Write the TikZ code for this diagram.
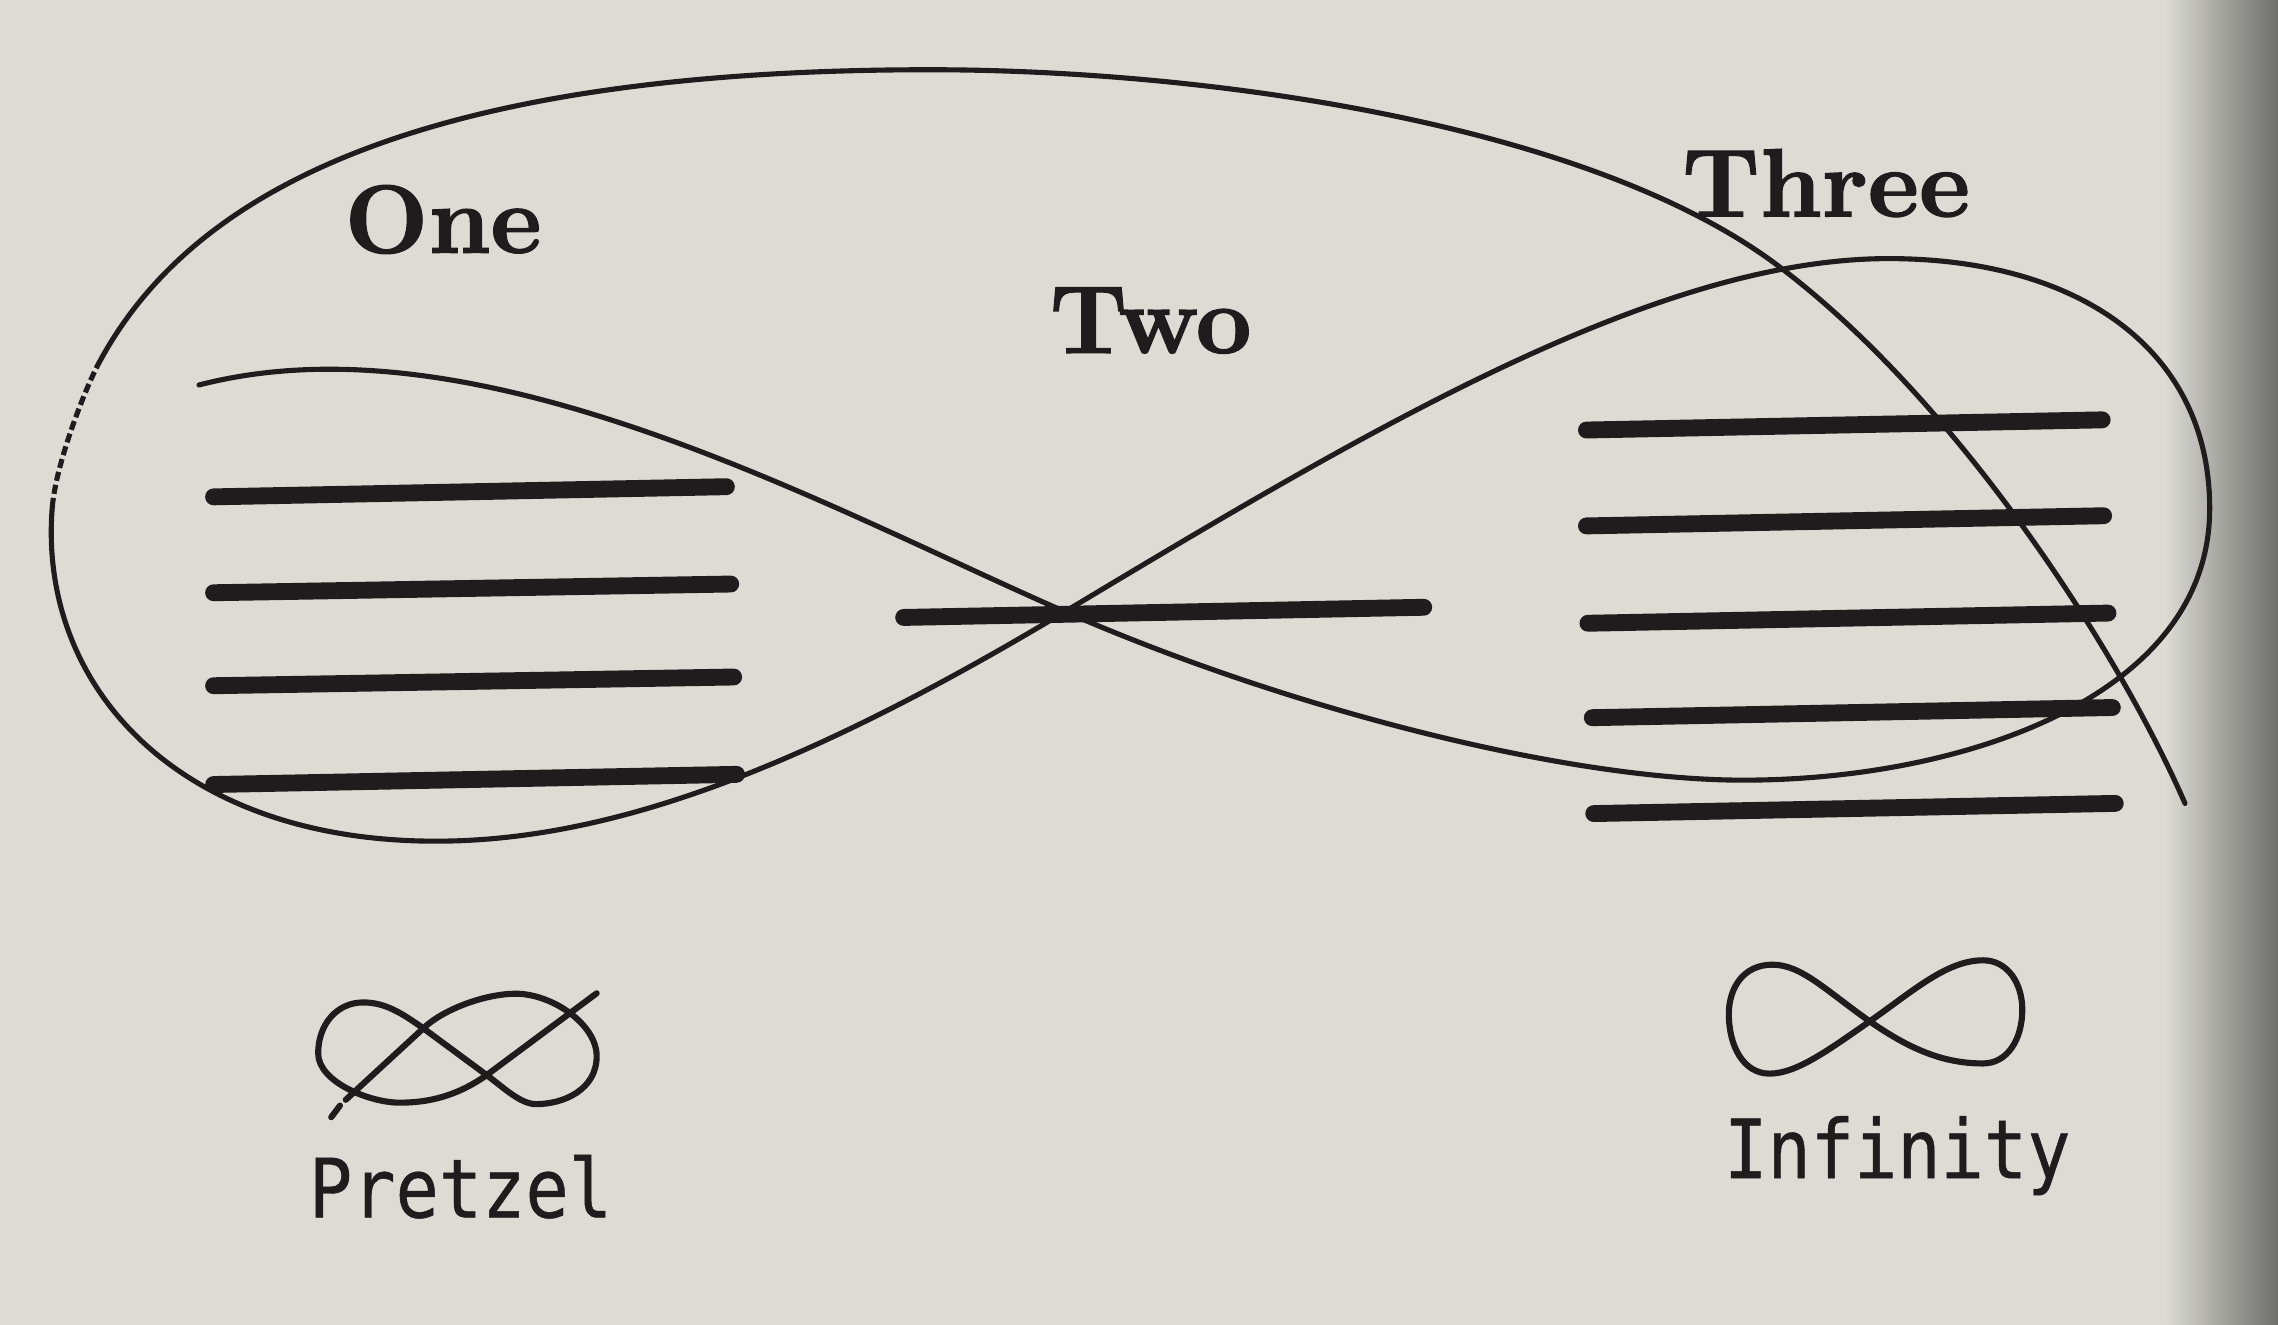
\documentclass[tikz,border=0pt]{standalone}
\usepackage{fontspec}
\newfontfamily\monofont{DejaVu Sans Mono}[FakeBold=0.6]
\newfontfamily\heavyfont{lmroman10-bold.otf}[FakeBold=1.3]
\definecolor{page}{RGB}{220,220,213}
\definecolor{pagedark}{RGB}{110,110,106}
\definecolor{ink}{RGB}{30,28,28}
\begin{document}
\begin{tikzpicture}[x=0.01cm,y=-0.01cm,
  curve/.style={draw=ink,line width=1pt,line cap=round,line join=round},
  dotcurve/.style={curve,line cap=butt,dash pattern=on 1.8pt off 0.8pt},
  bar/.style={draw=ink,line width=3.3pt,line cap=round},
  icon/.style={draw=ink,line width=1.2pt,line cap=round,line join=round},
  bigword/.style={text=ink,font=\heavyfont\fontsize{19}{20}\selectfont,inner sep=0pt,anchor=base},
  smallword/.style={text=ink,font=\monofont\fontsize{16}{18}\selectfont,inner sep=0pt,anchor=base,xscale=0.88}]
\fill[page] (0,0) rectangle (1568,912);
\shade[left color=page,right color=pagedark] (1490,0) rectangle (1568,912);
\useasboundingbox (0,0) rectangle (1568,912);

% key points of the big pretzel curve
\coordinate (p0) at (137,265);   % free start, inside the left lobe
\coordinate (x)  at (733,421);   % central crossing
\coordinate (b1) at (1200,537);  % bottom of the right lobe
\coordinate (r)  at (1521,350);  % right end of the right lobe
\coordinate (t2) at (1300,178);  % top of the right lobe
\coordinate (b2) at (300,579);   % bottom of the left lobe
\coordinate (q)  at (36,349);    % start of the broken stretch
\coordinate (w)  at (68,250);    % end of the broken stretch
\coordinate (tp) at (640,48);    % top of the outer arc
\coordinate (m)  at (1224,183);  % outer arc crosses the right lobe
\coordinate (pe) at (1504,553);  % free end

\draw[curve] (p0) .. controls (330,215) and (570,350) .. (x)
  .. controls (889,489) and (1080,537) .. (b1)
  .. controls (1350,537) and (1521,480) .. (r)
  .. controls (1521,240) and (1430,178) .. (t2)
  .. controls (1140,178) and (943,295) .. (x)
  .. controls (553,529) and (420,579) .. (b2)
  .. controls (120,579) and (26,470) .. (q);
\draw[dotcurve] (q) .. controls (38.5,319) and (58.6,267.6) .. (w);
\draw[curve] (w) .. controls (129,136) and (280,48) .. (tp)
  .. controls (830,48) and (1094,85) .. (m)
  .. controls (1344,273) and (1456,443) .. (pe);

% bars
\coordinate (l1a) at (147,342); \coordinate (l1b) at (500,335);
\coordinate (l2a) at (147,408); \coordinate (l2b) at (503,402);
\coordinate (l3a) at (147,472); \coordinate (l3b) at (505,466);
\coordinate (l4a) at (147,540); \coordinate (l4b) at (507,533);
\coordinate (m1a) at (622,425); \coordinate (m1b) at (980,418);
\coordinate (r1a) at (1092,296); \coordinate (r1b) at (1447,289);
\coordinate (r2a) at (1092,362); \coordinate (r2b) at (1448,355);
\coordinate (r3a) at (1093,429); \coordinate (r3b) at (1451,422);
\coordinate (r4a) at (1096,494); \coordinate (r4b) at (1454,487);
\coordinate (r5a) at (1097,560); \coordinate (r5b) at (1456,553);
\foreach \b in {l1,l2,l3,l4,m1,r1,r2,r3,r4,r5}
  \draw[bar] (\b a) -- (\b b);

% labels
\node[bigword] (one) at (305,174) {One};
\node[bigword] (two) at (792,243) {Two};
\node[bigword] (three) at (1257,149) {Three};

% pretzel icon
\coordinate (ps) at (238,757);
\coordinate (px1) at (291.4,707.8);
\coordinate (pt) at (355,684);
\coordinate (pr) at (410.7,727);
\coordinate (pb) at (369,760);
\coordinate (px2) at (335,740);
\coordinate (plt) at (250,690);
\coordinate (pll) at (219,725);
\coordinate (plb) at (275,759);
\coordinate (pend) at (410.7,683.7);
\draw[icon] (228,769) -- (234,761);
\draw[icon] (ps) -- (px1)
  .. controls (306,694) and (335,684) .. (pt)
  .. controls (380,684) and (410.7,705) .. (pr)
  .. controls (410.7,750) and (388,760) .. (pb)
  .. controls (358,760) and (346,748) .. (px2)
  -- (px1)
  .. controls (276,697) and (265,690) .. (plt)
  .. controls (232,690) and (219,705) .. (pll)
  .. controls (219,745) and (255,759) .. (plb)
  .. controls (295,759) and (314.5,754.5) .. (px2)
  -- (pend);
\node[smallword] (pretzel) at (317,838) {Pretzel};

% infinity icon
\coordinate (ix) at (1287,703);
\coordinate (ilt) at (1220,664);
\coordinate (ill) at (1190,698);
\coordinate (ilb) at (1218,739);
\coordinate (irt) at (1365,661);
\coordinate (irr) at (1392,695);
\coordinate (irb) at (1365,732);
\draw[icon] (ix) .. controls (1257,682) and (1240,664) .. (ilt)
  .. controls (1200,664) and (1190,680) .. (ill)
  .. controls (1190,720) and (1200,739) .. (ilb)
  .. controls (1236,739) and (1257,724) .. (ix)
  .. controls (1317,682) and (1340,661) .. (irt)
  .. controls (1382,661) and (1392,677) .. (irr)
  .. controls (1392,715) and (1382,732) .. (irb)
  .. controls (1340,732) and (1317,724) .. (ix) -- cycle;
\node[smallword] (infinity) at (1306,811) {Infinity};
\end{tikzpicture}
\end{document}
